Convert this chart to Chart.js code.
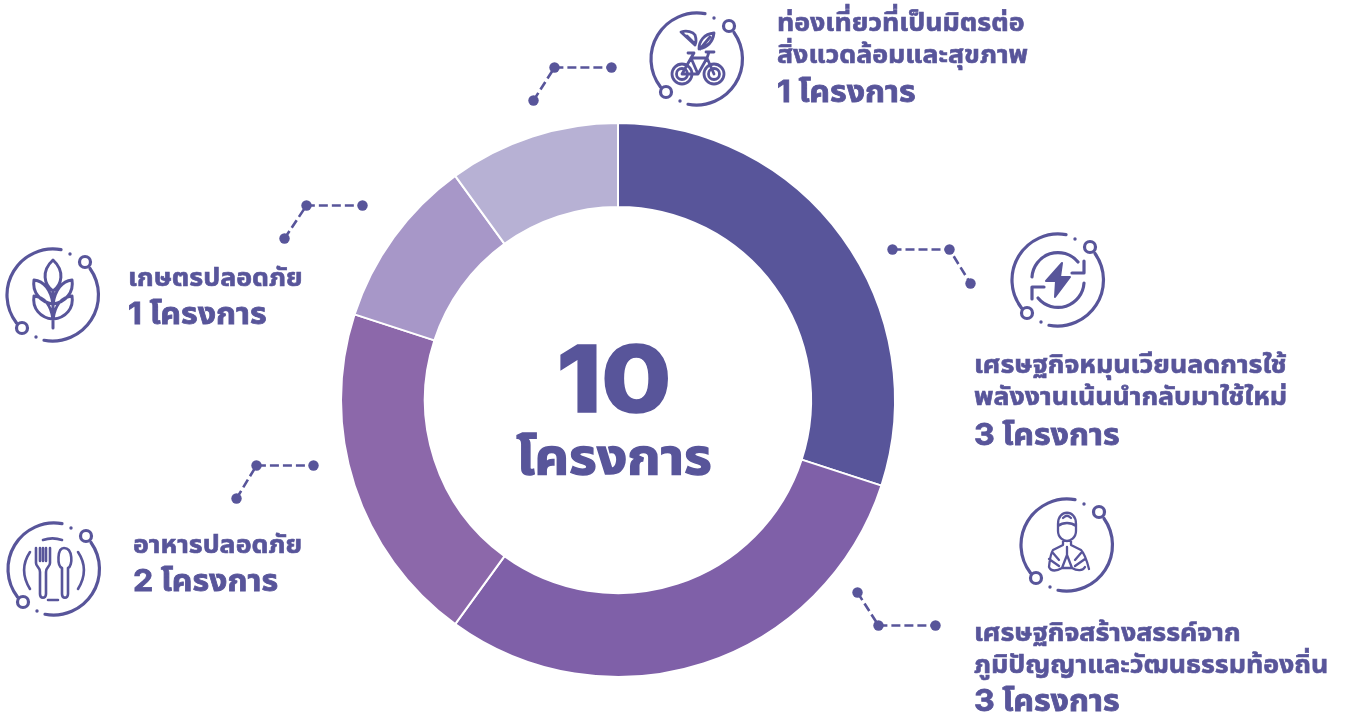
<!DOCTYPE html>
<html lang="th"><head><meta charset="utf-8">
<script src="https://cdn.jsdelivr.net/npm/chart.js@4"></script>
<style>
html,body{margin:0;padding:0;background:#fff;overflow:hidden}
#wrap{position:relative;width:1349px;height:713px;overflow:hidden}
canvas{position:absolute;left:0;top:0}
svg{position:absolute;left:0;top:0}
.t{position:absolute;white-space:nowrap;color:#58559A;font-family:Inter,"Noto Sans","Noto Sans Thai",sans-serif;font-weight:700;line-height:1;transform-origin:0 50%;transform:translateY(-50%) scaleX(1.07)}
.s{font-size:25px;-webkit-text-stroke:.6px #58559A}.b{font-size:30px;-webkit-text-stroke:.8px #58559A}
</style></head><body><div id="wrap">
<canvas id="c" width="1349" height="713"></canvas>
<svg id="deco" width="1349" height="713" viewBox="0 0 1349 713"></svg>
</div>
<script>
const categories=["เศรษฐกิจหมุนเวียนลดการใช้พลังงานเน้นนำกลับมาใช้ใหม่","เศรษฐกิจสร้างสรรค์จากภูมิปัญญาและวัฒนธรรมท้องถิ่น","อาหารปลอดภัย","เกษตรปลอดภัย","ท่องเที่ยวที่เป็นมิตรต่อสิ่งแวดล้อมและสุขภาพ"];
const values=[3,3,2,1,1];
const colors=["#58559A","#7F60A8","#8C68AA","#A797C8","#B7B1D4"];
const unit="โครงการ";
new Chart(document.getElementById('c'),{type:'doughnut',
 data:{labels:categories,datasets:[{data:values,backgroundColor:colors,borderColor:'#fff',borderWidth:2,borderAlign:'center'}]},
 options:{responsive:false,animation:false,cutout:'69.7%',rotation:0,
  layout:{padding:{left:340,right:453,top:122,bottom:35}},
  plugins:{legend:{display:false},tooltip:{enabled:false}}}});
const C='#58559A';
const labels=[
 {x:777,ys:[22,54,91],lines:["ท่องเที่ยวที่เป็นมิตรต่อ","สิ่งแวดล้อมและสุขภาพ"],v:4},
 {x:974,ys:[364,396,434],lines:["เศรษฐกิจหมุนเวียนลดการใช้","พลังงานเน้นนำกลับมาใช้ใหม่"],v:0},
 {x:974,ys:[632,664,700],lines:["เศรษฐกิจสร้างสรรค์จาก","ภูมิปัญญาและวัฒนธรรมท้องถิ่น"],v:1},
 {x:128,ys:[277,313],lines:["เกษตรปลอดภัย"],v:3},
 {x:133,ys:[544,580],lines:["อาหารปลอดภัย"],v:2}];
const wrap=document.getElementById('wrap');
function addText(x,y,str,cls,extra){const d=document.createElement('div');d.className='t '+cls;d.style.left=x+'px';d.style.top=y+'px';d.textContent=str;if(extra)Object.assign(d.style,extra);wrap.appendChild(d);return d;}
labels.forEach(l=>{l.lines.forEach((s,i)=>addText(l.x,l.ys[i],s,'s'));addText(l.x,l.ys[l.lines.length],values[l.v]+' '+unit,'b');});
addText(614,379,String(values.reduce((a,b)=>a+b,0)),'',{fontSize:'92px',fontWeight:'800',transformOrigin:'50% 50%',transform:'translate(-50%,-50%) scaleX(1.1)',WebkitTextStroke:'1.5px '+C});
addText(614,456,unit,'',{fontSize:'50px',transformOrigin:'50% 50%',transform:'translate(-50%,-50%) scaleX(1.07)',WebkitTextStroke:'1.4px '+C});
const connectors=[
 [[533.5,100.5],[554.5,67.5],[611.5,67.5]],[[284.5,238.5],[306.5,205.5],[362.5,205.5]],[[236.5,498.5],[256.5,465.5],[313.5,465.5]],
 [[892.5,249.5],[949.5,249.5],[970.5,283.5]],[[857.5,592.5],[878.5,625.5],[935.5,625.5]]];
let h='';
connectors.forEach(p=>{h+=`<polyline points="${p.map(q=>q.join(',')).join(' ')}" fill="none" stroke="${C}" stroke-width="2.6" stroke-dasharray="9 4"/>`;p.forEach(q=>h+=`<circle cx="${q[0]}" cy="${q[1]}" r="5.2" fill="${C}"/>`);});
const frame=`<path d="M8 -45.3A46 46 0 0 0 -36.5 28" /><path d="M37 -26.5A46 46 0 0 1 -9 45.3"/><circle cx="32" cy="-33" r="5.5"/><circle cx="-31" cy="33" r="5.5"/><circle cx="17" cy="-41" r="1.7" fill="${C}" stroke="none"/><circle cx="-17" cy="42" r="1.7" fill="${C}" stroke="none"/>`;
const bike=`<g stroke-width="2.8"><circle cx="-15" cy="15" r="10"/><circle cx="-15" cy="15" r="5.5"/><circle cx="17" cy="15" r="10"/><circle cx="17" cy="15" r="5.5"/><path d="M-15 15L-6 -1H10L17 15M-6 -1L1 15L10 -1M-9 -6H-3L-6 -1M1 15H-15M9 -7H17M12 -7L10 -1"/><path d="M-2 -14L-16 -27C-10 -29 -4 -27 -2 -24C-1 -21 0 -18 -2 -14ZM2 -10C2 -18 7 -25 17 -26C16 -18 11 -12 2 -10ZM-10 -23L-3 -16M13 -22L3 -10"/></g>`;
const energy=`<g stroke-width="3.2"><path d="M-26 -3A26 26 0 0 1 20 -18"/><path d="M26 3A26 26 0 0 1 -20 18"/><path d="M26 -19V-7H14M-26 19V7H-14"/></g><path d="M4 -17L-12 1H-2L-3 17L12 -3H2Z" fill="${C}" stroke="${C}" stroke-width="2" stroke-linejoin="round"/>`;
const monk=`<g stroke-width="2.3"><path d="M-9 -21C-9 -36 9 -36 9 -21V-14C9 -7 3 -4 0 -4C-3 -4 -9 -7 -9 -14ZM-9 -19C-4 -23 4 -23 9 -19M-4 -27C-1 -30 1 -30 4 -27M-4 -4L-4 0L-14 5C-17 10 -17 14 -18 22M4 -4L4 0L14 5C18 9 20 16 22 24M-18 22C-16 27 -10 26 -5 23L0 10L5 23C10 26 16 26 18 22M-5 23H5M0 10V2M-14 8L-8 15M14 8L8 15M-18 14L-8 21M18 14L8 21"/></g>`;
const wheat=`<g stroke-width="3"><path d="M0 -35C-12 -24 -9 -10 0 -4C9 -10 12 -24 0 -35ZM0 -4V33M0 9C-2 -5 -9 -14 -19 -15C-21 -3 -13 7 0 9ZM0 9C2 -5 9 -14 19 -15C21 -3 13 7 0 9ZM0 24C-2 10 -9 2 -19 1C-21 13 -13 23 0 24ZM0 24C2 10 9 2 19 1C21 13 13 23 0 24Z"/></g>`;
const food=`<g stroke-width="2.6"><path d="M-18 -21V-6C-18 -2 -14 -2 -14 3V25C-14 30 -8 30 -8 25V3C-8 -2 -4 -2 -4 -6V-21M-14 -21V-8M-8 -21V-8M-11 -21V-8"/><path d="M10 -21C3 -21 3 -3 8 -1V25C8 30 14 30 14 25V-1C19 -3 19 -21 10 -21Z"/><path d="M-11 -29A30 30 0 0 1 8 -29M-24 -17C-32 -5 -32 7 -24 20M24 -17C32 -5 32 7 24 20M-6 31H4"/></g>`;
[[697,59,bike],[1058,280,energy],[1067,545,monk],[53,295,wheat],[54,569,food]].forEach(([x,y,g])=>{
 h+=`<g transform="translate(${x} ${y})" fill="none" stroke="${C}" stroke-width="3.2" stroke-linecap="round" stroke-linejoin="round">${frame}${g}</g>`;});
document.getElementById('deco').innerHTML=h;
</script></body></html>
